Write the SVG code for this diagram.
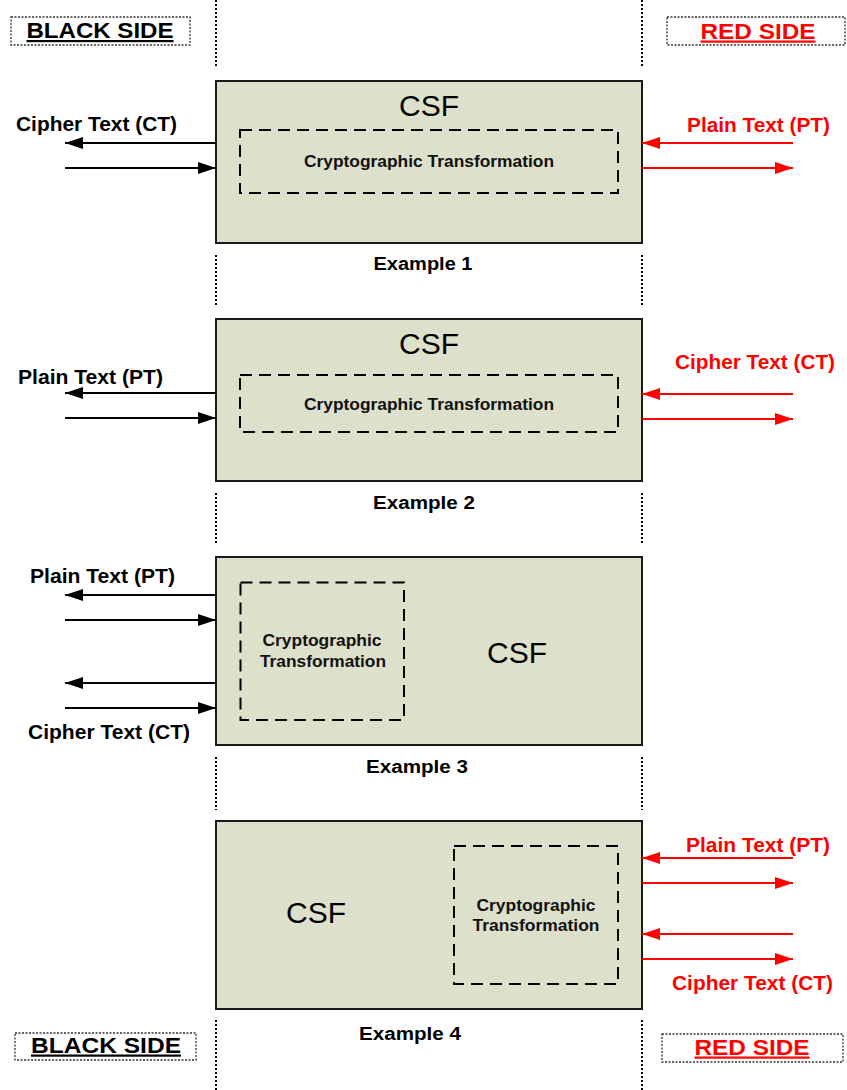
<svg xmlns="http://www.w3.org/2000/svg" width="847" height="1090" viewBox="0 0 847 1090">
<style>
.bg{fill:#ffffff}
.csf{fill:#dde0cb;stroke:#1a1a1a;stroke-width:2}
.ct{fill:none;stroke:#000;stroke-width:2;stroke-dasharray:12 7}
.sep{stroke:#000;stroke-width:2;stroke-dasharray:2 2}
.lbox{fill:#fff;stroke:#333;stroke-width:1.3;stroke-dasharray:2 1.5}
.t{font-family:"Liberation Sans",Arial,sans-serif;font-weight:bold}
.csft{font-family:"Liberation Sans",Arial,sans-serif;font-size:30px;fill:#000;text-anchor:middle}
.lbl{font-size:21px}
.trf{font-size:17px;fill:#111;text-anchor:middle}
.ex{font-size:18px;fill:#000;text-anchor:middle}
.side{font-size:22px;text-decoration:underline;text-anchor:middle}
.blk{fill:#000}
.red{fill:#ff0000}
.ab{stroke:#000;stroke-width:2;fill:none}
.ar{stroke:#ff0000;stroke-width:2;fill:none}
</style>
<defs>
<marker id="hb" markerUnits="userSpaceOnUse" markerWidth="18" markerHeight="12" refX="18" refY="6" orient="auto"><path d="M0,0 L18,6 L0,12 z" fill="#000"/></marker>
<marker id="hr" markerUnits="userSpaceOnUse" markerWidth="18" markerHeight="12" refX="18" refY="6" orient="auto"><path d="M0,0 L18,6 L0,12 z" fill="#ff0000"/></marker>
</defs>
<rect class="bg" x="0" y="0" width="847" height="1090"/>

<g id="separators">
<path class="sep" d="M216,0V68M216,255V305M216,493V545M216,757V810M216,1020V1090"/>
<path class="sep" d="M642,0V68M642,255V305M642,493V545M642,757V810M642,1020V1090"/>
</g>

<g id="black-side-top">
<rect class="lbox" x="11" y="17" width="179" height="28"/>
<text class="t side blk" x="100" y="38" textLength="147" lengthAdjust="spacingAndGlyphs">BLACK SIDE</text>
</g>
<g id="red-side-top">
<rect class="lbox" x="667" y="17" width="178" height="28"/>
<text class="t side red" x="758" y="38.5" textLength="115" lengthAdjust="spacingAndGlyphs">RED SIDE</text>
</g>
<g id="black-side-bottom">
<rect class="lbox" x="15" y="1033" width="181" height="27"/>
<text class="t side blk" x="106" y="1052.5" textLength="150" lengthAdjust="spacingAndGlyphs">BLACK SIDE</text>
</g>
<g id="red-side-bottom">
<rect class="lbox" x="662" y="1034" width="181" height="28"/>
<text class="t side red" x="752" y="1054.5" textLength="115" lengthAdjust="spacingAndGlyphs">RED SIDE</text>
</g>

<g id="example1">
<rect class="csf" x="216" y="81" width="426" height="162"/>
<text class="csft" x="429" y="116">CSF</text>
<rect class="ct" x="240" y="130" width="378" height="63"/>
<text class="t trf" x="429" y="166.5" textLength="250" lengthAdjust="spacingAndGlyphs">Cryptographic Transformation</text>
<text class="t ex" x="423" y="270" textLength="99" lengthAdjust="spacingAndGlyphs">Example 1</text>
<text class="t lbl blk" x="16" y="131" textLength="161" lengthAdjust="spacingAndGlyphs">Cipher Text (CT)</text>
<text class="t lbl red" x="687" y="132" textLength="143" lengthAdjust="spacingAndGlyphs">Plain Text (PT)</text>
</g>

<g id="example2">
<rect class="csf" x="216" y="319" width="426" height="162"/>
<text class="csft" x="429" y="354">CSF</text>
<rect class="ct" x="240" y="375" width="378" height="57"/>
<text class="t trf" x="429" y="409.5" textLength="250" lengthAdjust="spacingAndGlyphs">Cryptographic Transformation</text>
<text class="t ex" x="424" y="509" textLength="102" lengthAdjust="spacingAndGlyphs">Example 2</text>
<text class="t lbl blk" x="18" y="384" textLength="145" lengthAdjust="spacingAndGlyphs">Plain Text (PT)</text>
<text class="t lbl red" x="675" y="369" textLength="160" lengthAdjust="spacingAndGlyphs">Cipher Text (CT)</text>
</g>

<g id="example3">
<rect class="csf" x="216" y="557" width="426" height="188"/>
<text class="csft" x="517" y="663">CSF</text>
<rect class="ct" x="240.5" y="582.5" width="163.5" height="137.5"/>
<text class="t trf" x="322" y="646" textLength="119" lengthAdjust="spacingAndGlyphs">Cryptographic</text>
<text class="t trf" x="323" y="667" textLength="126" lengthAdjust="spacingAndGlyphs">Transformation</text>
<text class="t ex" x="417" y="773" textLength="102" lengthAdjust="spacingAndGlyphs">Example 3</text>
<text class="t lbl blk" x="30" y="583" textLength="145" lengthAdjust="spacingAndGlyphs">Plain Text (PT)</text>
<text class="t lbl blk" x="28" y="739" textLength="162" lengthAdjust="spacingAndGlyphs">Cipher Text (CT)</text>
</g>

<g id="example4">
<rect class="csf" x="216" y="821" width="426" height="188"/>
<text class="csft" x="316" y="923">CSF</text>
<rect class="ct" x="454" y="846" width="164" height="138"/>
<text class="t trf" x="536" y="911" textLength="119" lengthAdjust="spacingAndGlyphs">Cryptographic</text>
<text class="t trf" x="536" y="931" textLength="127" lengthAdjust="spacingAndGlyphs">Transformation</text>
<text class="t ex" x="410" y="1040" textLength="102" lengthAdjust="spacingAndGlyphs">Example 4</text>
<text class="t lbl red" x="686" y="852" textLength="144" lengthAdjust="spacingAndGlyphs">Plain Text (PT)</text>
<text class="t lbl red" x="672" y="990" textLength="161" lengthAdjust="spacingAndGlyphs">Cipher Text (CT)</text>
</g>

<g id="connectors">
<path class="ab" d="M216,143H65" marker-end="url(#hb)"/>
<path class="ab" d="M65,168H216" marker-end="url(#hb)"/>
<path class="ar" d="M793,143H642" marker-end="url(#hr)"/>
<path class="ar" d="M642,168H793" marker-end="url(#hr)"/>

<path class="ab" d="M216,393H65" marker-end="url(#hb)"/>
<path class="ab" d="M65,418H216" marker-end="url(#hb)"/>
<path class="ar" d="M793,394H642" marker-end="url(#hr)"/>
<path class="ar" d="M642,419H793" marker-end="url(#hr)"/>

<path class="ab" d="M216,595H65" marker-end="url(#hb)"/>
<path class="ab" d="M65,620H216" marker-end="url(#hb)"/>
<path class="ab" d="M216,683H65" marker-end="url(#hb)"/>
<path class="ab" d="M65,708H216" marker-end="url(#hb)"/>

<path class="ar" d="M793,858H642" marker-end="url(#hr)"/>
<path class="ar" d="M642,883H793" marker-end="url(#hr)"/>
<path class="ar" d="M793,934H642" marker-end="url(#hr)"/>
<path class="ar" d="M642,959H793" marker-end="url(#hr)"/>
</g>
</svg>
